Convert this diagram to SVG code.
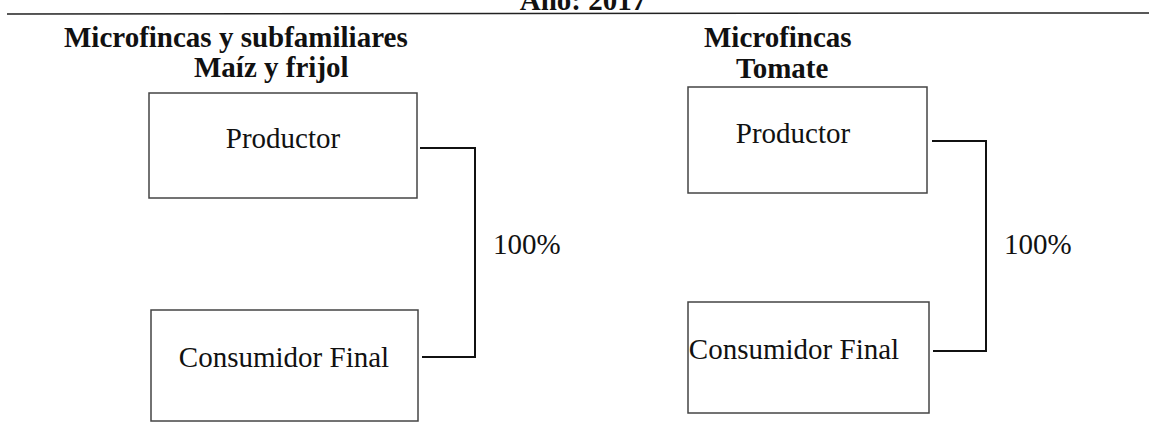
<svg xmlns="http://www.w3.org/2000/svg" width="1149" height="424" viewBox="0 0 1149 424">
<style>
.bg{fill:#fff}
.box{fill:#fff;stroke:#444;stroke-width:1.5}
.t{font-family:"Liberation Serif","Times New Roman",serif;font-size:29px;fill:#111}
.h{font-family:"Liberation Serif","Times New Roman",serif;font-size:29px;font-weight:bold;fill:#111}
.c{fill:none;stroke:#111;stroke-width:2}
</style>
<rect class="bg" x="0" y="0" width="1149" height="424"/>
<text class="h" x="583" y="10" text-anchor="middle">Año: 2017</text>
<line x1="7" y1="14" x2="1149" y2="13" stroke="#222" stroke-width="1.5"/>
<g id="header-left">
<text class="h" x="64" y="47">Microfincas y subfamiliares</text>
<text class="h" x="194" y="77">Maíz y frijol</text>
</g>
<g id="header-right">
<text class="h" x="704" y="47">Microfincas</text>
<text class="h" x="736" y="78">Tomate</text>
</g>
<g id="productor-left">
<rect class="box" x="149" y="93" width="268" height="105"/>
<text class="t" x="283" y="148" text-anchor="middle">Productor</text>
</g>
<g id="consumidor-left">
<rect class="box" x="151" y="310" width="267" height="111"/>
<text class="t" x="284" y="367" text-anchor="middle">Consumidor Final</text>
</g>
<g id="productor-right">
<rect class="box" x="688" y="87" width="239" height="106"/>
<text class="t" x="793" y="143" text-anchor="middle">Productor</text>
</g>
<g id="consumidor-right">
<rect class="box" x="688" y="302" width="241" height="111"/>
<text class="t" x="794" y="359" text-anchor="middle">Consumidor Final</text>
</g>
<g id="connectors">
<polyline class="c" points="420,148 475,148 475,357 422,357"/>
<polyline class="c" points="932,141 986,141 986,351 933,351"/>
<text class="t" x="493" y="254">100%</text>
<text class="t" x="1004" y="254">100%</text>
</g>
</svg>
